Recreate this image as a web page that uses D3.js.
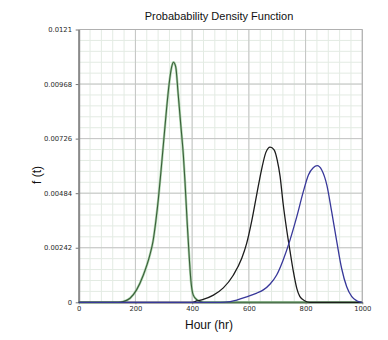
<!DOCTYPE html>
<html><head><meta charset="utf-8">
<script src="https://cdn.jsdelivr.net/npm/d3@7"></script>
<style>body{margin:0;background:#fff}svg{display:block}</style>
</head><body>
<svg id="c" width="388" height="340"></svg>
<script>
const title = "Probabability Density Function";
const xLabel = "Hour (hr)";
const yLabel = "f (t)";
const xTicks = [0, 200, 400, 600, 800, 1000];
const xTickLabels = ["0", "200", "400", "600", "800", "1000"];
const yTicks = [0, 0.00242, 0.00484, 0.00726, 0.00968, 0.0121];
const yTickLabels = ["0", "0.00242", "0.00484", "0.00726", "0.00968", "0.0121"];

const greenHours = [0, 140, 157, 181, 204, 228, 251, 262, 272, 281, 290, 300, 310, 319, 328, 334, 342, 351, 360, 369, 375, 383, 390, 396, 404, 418, 439, 1000];
const greenValues = [0, 0, 0.00003, 0.00018, 0.00055, 0.00121, 0.0021, 0.0027, 0.0036, 0.0046, 0.0058, 0.0072, 0.0086, 0.0097, 0.01045, 0.01065, 0.01045, 0.0092, 0.00786, 0.00653, 0.0053, 0.00343, 0.00195, 0.00091, 0.00032, 0.0001, 0, 0];

const blackHours = [0, 400, 416, 439, 475, 510, 545, 575, 592, 610, 628, 645, 660, 675, 689, 700, 710, 721, 733, 745, 757, 769, 780, 798, 815, 1000];
const blackValues = [0, 0, 0.00006, 0.00013, 0.00032, 0.00064, 0.0012, 0.00195, 0.0026, 0.0036, 0.0048, 0.0059, 0.00665, 0.00688, 0.00676, 0.00631, 0.0056, 0.00436, 0.00325, 0.00228, 0.00136, 0.00062, 0.00025, 0.00006, 0, 0];

const blueHours = [0, 500, 534, 557, 592, 628, 651, 675, 698, 721, 745, 769, 792, 810, 827, 841, 857, 875, 892, 910, 927, 945, 963, 980, 998, 1000];
const blueValues = [0, 0, 0.00003, 0.0001, 0.00024, 0.00041, 0.00055, 0.00081, 0.00121, 0.00188, 0.00276, 0.0038, 0.00491, 0.00565, 0.00597, 0.00606, 0.00587, 0.0052, 0.00402, 0.00269, 0.00151, 0.00069, 0.00025, 0.00007, 0, 0];

const svg = d3.select("#c");
const x = d3.scaleLinear().domain([0, 1000]).range([78.7, 362.3]);
const y = d3.scaleLinear().domain([0, 0.0121]).range([302.3, 29.5]);
const [x0, x1] = x.range(); const [y0, y1] = y.range();

const g = svg.append("g");
// minor grid
const xMinor = d3.range(0, 1001, 40);
const yMinor = d3.range(0, 26).map(i => i * 0.000484);
g.selectAll(".vm").data(xMinor).join("line")
  .attr("x1", d => x(d)).attr("x2", d => x(d)).attr("y1", y1).attr("y2", y0)
  .attr("stroke", "#e3ebe3").attr("stroke-width", 1);
g.selectAll(".hm").data(yMinor).join("line")
  .attr("x1", x0).attr("x2", x1).attr("y1", d => y(d)).attr("y2", d => y(d))
  .attr("stroke", "#e3ebe3").attr("stroke-width", 1);
// major grid
g.selectAll(".vM").data(xTicks).join("line")
  .attr("x1", d => x(d)).attr("x2", d => x(d)).attr("y1", y1).attr("y2", y0)
  .attr("stroke", "#c4c4c4").attr("stroke-width", 1);
g.selectAll(".hM").data(yTicks).join("line")
  .attr("x1", x0).attr("x2", x1).attr("y1", d => y(d)).attr("y2", d => y(d))
  .attr("stroke", "#c4c4c4").attr("stroke-width", 1);

// axes
const xAxis = d3.axisBottom(x).tickValues(xTicks).tickFormat((d, i) => xTickLabels[i]).tickSize(2).tickSizeOuter(0);
const yAxis = d3.axisLeft(y).tickValues(yTicks).tickFormat((d, i) => yTickLabels[i]).tickSize(3).tickSizeOuter(0);
const gx = svg.append("g").attr("transform", `translate(0,${y0})`).call(xAxis);
const gy = svg.append("g").attr("transform", `translate(${x0},0)`).call(yAxis);
[gx, gy].forEach(a => {
  a.selectAll("text").attr("font-family", "DejaVu Sans").attr("font-size", 6.8).attr("fill", "#2a2a2a");
  a.selectAll("line").attr("stroke", "#777");
  a.select(".domain").attr("stroke", "#8a8a8a").attr("stroke-width", 2);
});
gy.selectAll("text").attr("dx", "-0.1em");
gx.selectAll("text").attr("dy", "0.6em");

const line = d3.line().x(d => x(d[0])).y(d => y(d[1])).curve(d3.curveMonotoneX);
const mk = (h, v) => h.map((d, i) => [d, v[i]]);

svg.append("path").datum(mk(greenHours, greenValues)).attr("d", line)
  .attr("fill", "none").attr("stroke", "#8cc48c").attr("stroke-width", 2.4).attr("opacity", 0.7);
svg.append("path").datum(mk(greenHours, greenValues)).attr("d", line)
  .attr("fill", "none").attr("stroke", "#3b5f3b").attr("stroke-width", 1.1);
svg.append("path").datum(mk(blackHours, blackValues)).attr("d", line)
  .attr("fill", "none").attr("stroke", "#1c1c1c").attr("stroke-width", 1.3);
svg.append("path").datum(mk(blueHours, blueValues)).attr("d", line)
  .attr("fill", "none").attr("stroke", "#38389a").attr("stroke-width", 1.3);

// frame top/right
svg.append("line").attr("x1", x0).attr("x2", x1).attr("y1", y1).attr("y2", y1).attr("stroke", "#b0b0b0");
svg.append("line").attr("x1", x1).attr("x2", x1).attr("y1", y1).attr("y2", y0).attr("stroke", "#b0b0b0");

svg.append("text").attr("x", 219).attr("y", 20).attr("text-anchor", "middle")
  .attr("font-family", "Liberation Sans, Arial").attr("font-size", 11).attr("fill", "#111").text(title);
svg.append("text").attr("x", 209).attr("y", 328.5).attr("text-anchor", "middle")
  .attr("font-family", "Liberation Sans, Arial").attr("font-size", 12).attr("fill", "#111").text(xLabel);
svg.append("text").attr("transform", "translate(41,175) rotate(-90)").attr("text-anchor", "middle")
  .attr("font-family", "Liberation Sans, Arial").attr("font-size", 12).attr("fill", "#111").text(yLabel);
</script>
</body></html>
